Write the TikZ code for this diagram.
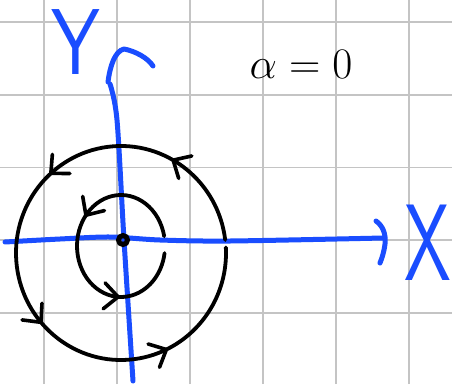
\documentclass[tikz,border=0pt]{standalone}
\usepackage{tikz}
\usetikzlibrary{decorations.markings}
\definecolor{penblue}{HTML}{1A4DFF}
\definecolor{gridgray}{HTML}{C4C4C4}

\begin{document}
\begin{tikzpicture}[x=1pt, y=1pt,
  gridline/.style={gridgray, line width=1.6pt},
  axisline/.style={penblue, line width=5pt, line cap=round, line join=round},
  orbit/.style={black, line width=3.8pt, line cap=round},
  flowmark/.style={postaction={decorate, decoration={markings,
    mark=at position #1 with {\draw[black, line width=3.6pt, line cap=round, line join=round]
      (-14pt,13pt) -- (0pt,0pt) -- (-14pt,-13pt);}}}},
  penlabel/.style={penblue, inner sep=0pt, font=\sffamily}]
  \useasboundingbox (0,0) rectangle (452,384);
  \fill[white] (0,0) rectangle (452,384);

  % Grid paper
  \foreach \gx in {44,117,190,263,336,409}
    \draw[gridline] (\gx,0) -- (\gx,384);
  \foreach \gy in {71.2,144,216.6,289.3,362}
    \draw[gridline] (0,\gy) -- (452,\gy);

  % Axes
  \coordinate (O) at (123,144);
  \draw[axisline] plot[smooth] coordinates {(5,142) (60,145) (110,147) (160,144) (230,143) (383,146)};
  \draw[axisline] (376,163) .. controls (383,158) and (386,150) .. (385,140)
    .. controls (384,132) and (382,126) .. (380,121);
  \draw[axisline] plot[smooth] coordinates {(133,3) (124,144) (117,264) (110,300)};
  \draw[axisline] (108,302) .. controls (110,318) and (115,333) .. (124,335)
    .. controls (135,333) and (148,326) .. (153,318);
  \node[penlabel, font=\sffamily\fontsize{78}{78}\selectfont] (ylabel) at (76,342) {\scalebox{1}[1.2]{Y}};
  \node[penlabel, font=\sffamily\fontsize{68}{68}\selectfont] (xlabel) at (428,141) {\scalebox{1.1}[1.6]{X}};

  % Orbits around the centre
  \draw[orbit, flowmark=0.15, flowmark=0.35, flowmark=0.60, flowmark=0.81]
    (121,131) ++(7:105 and 107) arc[start angle=7, end angle=363, x radius=105, y radius=107];
  \draw[orbit, flowmark=0.38, flowmark=0.75]
    (121,138) ++(11:44 and 51) arc[start angle=11, end angle=352, x radius=44, y radius=51];
  \draw[black, line width=5pt] (O) circle[radius=4.5];

  % Parameter
  \node[inner sep=0pt, font=\Huge] (alpha) at (301,320) {\scalebox{1.75}{$\alpha=0$}};
\end{tikzpicture}
\end{document}
